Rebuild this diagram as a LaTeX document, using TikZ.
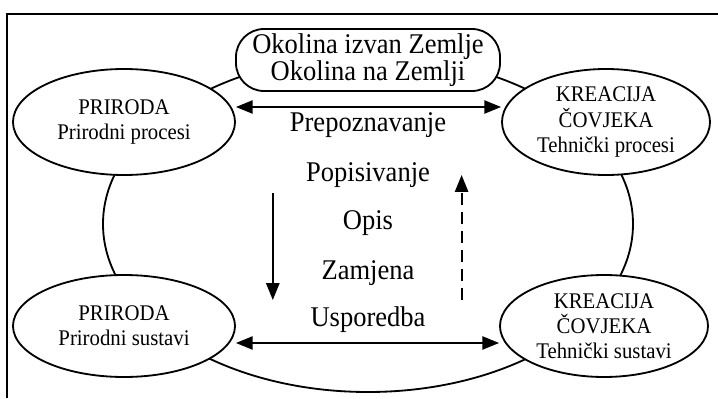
\documentclass[tikz,border=0pt]{standalone}
\usepackage{fontspec}
\setmainfont[FakeStretch=0.93]{Liberation Serif}
\usetikzlibrary{
	shapes, arrows.meta,
	positioning, calc
}
\tikzstyle{oval} = [ellipse, draw, fill=white, line width=1.3pt, inner sep=0pt, align=center, font=\fontsize{15.9}{17.8}\selectfont]
\tikzstyle{env} = [rectangle, draw, fill=white, rounded corners=0.7cm, line width=1.3pt, minimum width=6.6cm, minimum height=1.55cm, inner sep=0pt, align=center, font=\fontsize{20.3}{17.8}\selectfont]
\tikzstyle{lbl} = [font=\fontsize{20.3}{22}\selectfont]
\tikzstyle{arr} = [line width=1.3pt, -{Triangle[length=0.42cm,width=0.33cm]}]
\tikzstyle{dblarr} = [line width=1.3pt, {Triangle[length=0.42cm,width=0.33cm]}-{Triangle[length=0.42cm,width=0.33cm]}]

\begin{document}
\begin{tikzpicture}
    \useasboundingbox (0,0) rectangle (17.95,9.95);
    \draw[line width=1.3pt] (0.175,0) -- (0.175,9.6) -- (17.95,9.6);
    \draw[line width=1.3pt] (9.2,4.35) ellipse (6.625 and 4.2);
    \node[env] (env) at (9.2,8.45) {Okolina izvan Zemlje\\Okolina na Zemlji};
    \node[oval, minimum width=5.55cm, minimum height=2.65cm] (pp) at (3.1,6.9) {PRIRODA\\Prirodni procesi};
    \node[oval, minimum width=5.55cm, minimum height=2.55cm] (ps) at (3.1,1.8) {PRIRODA\\Prirodni sustavi};
    \node[oval, minimum width=5.2cm, minimum height=2.65cm] (tp) at (15.15,6.9) {KREACIJA\\ČOVJEKA\\Tehnički procesi};
    \node[oval, minimum width=5.2cm, minimum height=2.55cm] (ts) at (15.1,1.8) {KREACIJA\\ČOVJEKA\\Tehnički sustavi};
    \node[lbl] (prep) at (9.2,6.825) {Prepoznavanje};
    \node[lbl] (popis) at (9.2,5.575) {Popisivanje};
    \node[lbl] (opis) at (9.2,4.375) {Opis};
    \node[lbl] (zamj) at (9.2,3.125) {Zamjena};
    \node[lbl] (uspo) at (9.2,1.95) {Usporedba};
    \draw[dblarr] ([yshift=0.375cm]pp.east) -- ([yshift=0.375cm]tp.west);
    \draw[dblarr] ([yshift=-0.425cm]ps.east) -- ([yshift=-0.425cm]ts.west);
    \coordinate (dtop) at (6.82,5.125);
    \coordinate (dbot) at (6.82,2.45);
    \draw[arr] (dtop) -- (dbot);
    \coordinate (ubot) at (11.54,2.45);
    \coordinate (utop) at (11.54,5.575);
    \draw[arr, dash pattern=on 8.5pt off 5pt] (ubot) -- (utop);
\end{tikzpicture}
\end{document}
